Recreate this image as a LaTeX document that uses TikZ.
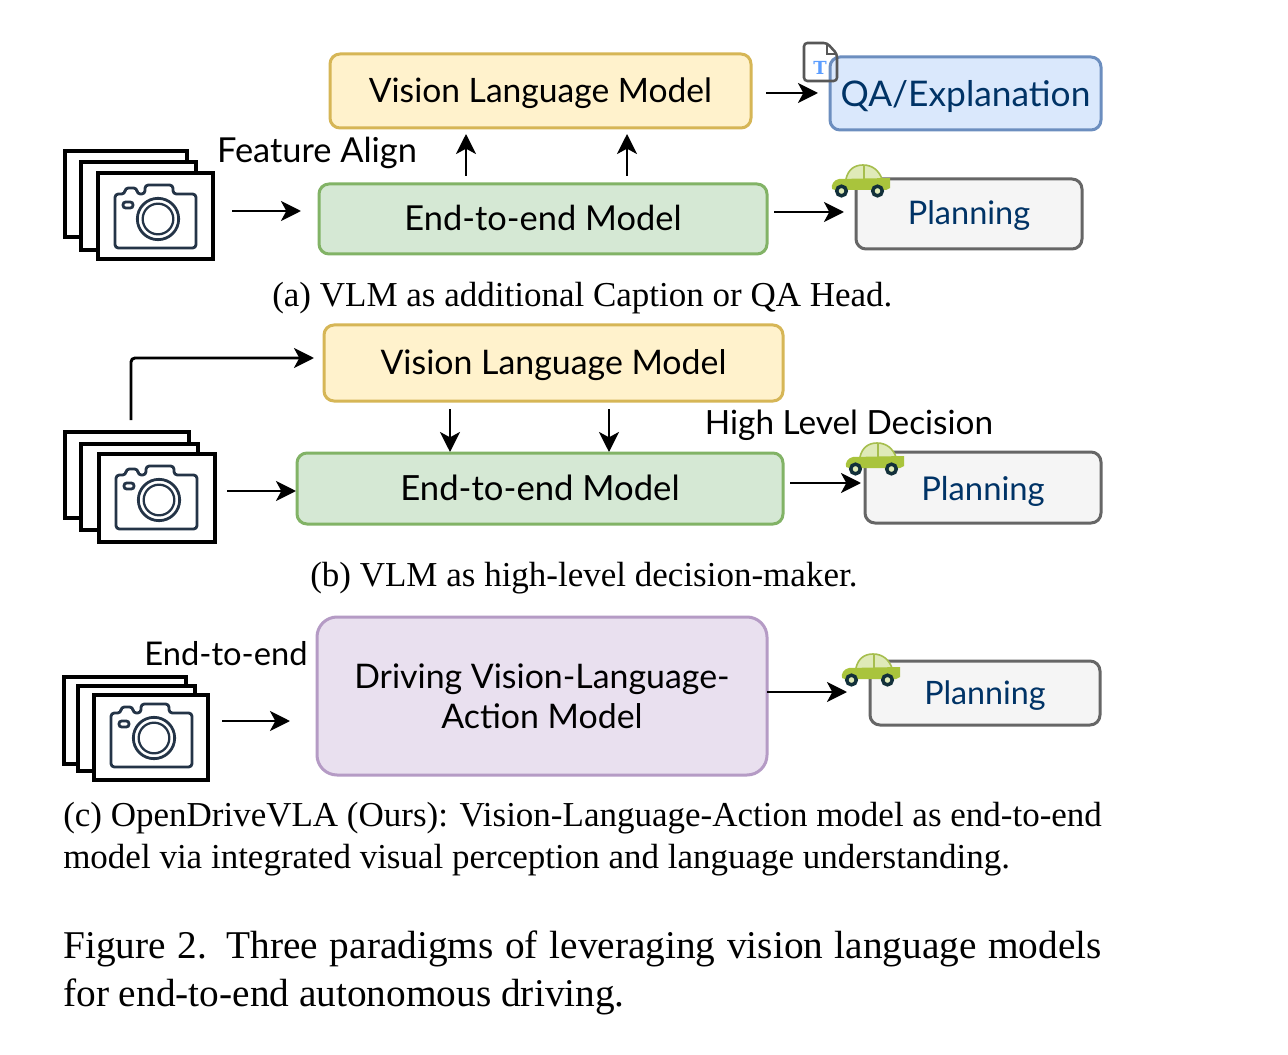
\documentclass[tikz,border=0pt]{standalone}
\usepackage{fontspec}
\setmainfont{Liberation Serif}
\newfontfamily\handfont{Lato}
\newfontfamily\slabfont{DejaVu Serif}
\usetikzlibrary{arrows.meta,fit}
\definecolor{yfill}{HTML}{FFF2CC}\definecolor{ydraw}{HTML}{D6B656}
\definecolor{gfill}{HTML}{D5E8D4}\definecolor{gdraw}{HTML}{82B366}
\definecolor{bfill}{HTML}{DAE8FC}\definecolor{bdraw}{HTML}{6C8EBF}
\definecolor{pfill}{HTML}{E9E0EF}\definecolor{pdraw}{HTML}{B59BC5}
\definecolor{wfill}{HTML}{F5F5F5}\definecolor{wdraw}{HTML}{666666}
\definecolor{navy}{HTML}{003366}\definecolor{camink}{HTML}{243447}
\definecolor{carbody}{HTML}{A9C43C}\definecolor{carroof}{HTML}{DFEAB8}\definecolor{carline}{HTML}{A6BE4E}
\definecolor{wheel}{HTML}{12303A}\definecolor{tblue}{HTML}{5B9DFF}
\tikzset{
  x=0.75pt,y=-0.75pt,
  hsize/.style={font=\handfont\fontsize{#1}{30}\selectfont},
  span/.style 2 args={minimum width=#1*0.75pt,minimum height=#2*0.75pt},
  lift/.style={text height=#1*1.5pt,text depth=0pt},
  flow/.style={draw,line width=2.25pt,rounded corners=7.5pt,inner sep=0pt,outer sep=0pt,align=center},
  yellowbox/.style={flow,draw=ydraw,fill=yfill},
  greenbox/.style={flow,draw=gdraw,fill=gfill},
  bluebox/.style={flow,draw=bdraw,fill=bfill,text=navy},
  purplebox/.style={flow,draw=pdraw,fill=pfill,rounded corners=15pt},
  greybox/.style={flow,draw=wdraw,fill=wfill,text=navy},
  frame/.style={draw=black,line width=2.35pt,fill=white,inner sep=0pt,outer sep=0pt},
  arr/.style={-{Stealth[length=15pt,width=15pt,inset=4pt]},line width=2.2pt,black},
  gap/.style 2 args={shorten <=#1*0.75pt,shorten >=#2*0.75pt},
  hand/.style={inner sep=0pt,anchor=base},
  capline/.style={font=\fontsize{26.25}{31.5}\selectfont,inner sep=0pt,anchor=base west},
  capblock/.style={inner sep=0pt,anchor=north west,text width=779pt,align=justify},
  caricon/.pic={
    \fill[carroof] (15,14) .. controls (17,5) and (23,0) .. (32,0) .. controls (42,0) and (48,6) .. (51,14) -- cycle;
    \draw[carline,line width=1.2pt] (15,14) .. controls (17,5) and (23,0) .. (32,0) .. controls (42,0) and (48,6) .. (51,14) (33,0) -- (33,14);
    \fill[carbody] (8,14) -- (59,13) -- (59,23) -- (55,25) -- (4,25) -- (1,24) .. controls (0,19) and (3,15) .. (8,14) -- cycle;
    \foreach \cx in {10.5,46.5}{\draw[wheel,line width=2.6pt,fill=carroof] (\cx,26) circle (3.6pt);}
  },
  lensicon/.pic={
    \draw[camink,line width=2.1pt,line join=round,rounded corners=2.5pt]
      (0,9) -- (10,9) -- (10,3) -- (22,3) -- (22,9) -- (30,9) -- (30,0) -- (58,0) -- (58,9) -- (81,9) -- (81,63) -- (0,63) -- cycle;
    \draw[camink,line width=2.1pt,rounded corners=2pt] (8,17) rectangle (18,23);
    \draw[camink,line width=2.1pt] (43,34) circle (15.5pt);
    \draw[camink,line width=1.7pt] (43,34) circle (11.5pt);
  },
}
\begin{document}
\begin{tikzpicture}
\useasboundingbox[fill=white] (0,0) rectangle (1288,1055);

% (a)
\node[yellowbox,span={421}{74},hsize=25.2,lift=12] (vlmA) at (540.5,91) {Vision Language Model};
\node[bluebox,span={271}{73},hsize=26.5,lift=13.5] (qaA) at (965.5,93.5) {QA/Explanation};
\node[greenbox,span={448}{70},hsize=25.8,lift=11.7] (e2eA) at (543,219) {End-to-end Model};
\node[greybox,span={226}{70},hsize=24.4,lift=11] (planA) at (969,214) {Planning};
\node[frame,fit={(65,151)(187,237)}] (camAa) {};
\node[frame,fit={(81,162)(196,250)}] (camAb) {};
\node[frame,fit={(98,173)(213,259)}] (camAc) {};
\pic at (115,185) {lensicon};
\pic at (831,165) {caricon};
\node[hand,hsize=25.8] (alignA) at (317,163) {Feature Align};
% document icon
\draw[draw=wdraw!85!black,line width=1.9pt,rounded corners=2.5pt] (804,43) -- (827,43) -- (837,54) -- (837,81) -- (804,81) -- cycle;
\draw[draw=wdraw!85!black,line width=1.5pt] (827,43) -- (827,54) -- (837,54);
\node[font=\slabfont\fontsize{13.5}{13.5}\bfseries\selectfont,text=tblue,inner sep=0pt] (docT) at (820,67.5) {T};

\draw[arr,gap={15}{12}] (vlmA.east |- 0,93) -- (qaA.west |- 0,93);
\draw[arr,gap={8}{6}] (e2eA.north -| 466,0) -- (vlmA.south -| 466,0);
\draw[arr,gap={8}{6}] (e2eA.north -| 627,0) -- (vlmA.south -| 627,0);
\draw[arr,gap={19}{18}] (camAc.east |- 0,211) -- (e2eA.west |- 0,211);
\draw[arr,gap={7}{12}] (e2eA.east |- 0,212) -- (planA.west |- 0,212);
\node[capline] (capA) at (272,306.5) {(a) VLM as additional Caption or QA Head.};

% (b)
\node[yellowbox,span={459}{76},hsize=25.4,lift=11] (vlmB) at (553.5,363) {Vision Language Model};
\node[greenbox,span={486}{71},hsize=26,lift=11.8] (e2eB) at (540,488.5) {End-to-end Model};
\node[greybox,span={236}{71},hsize=24.6,lift=13] (planB) at (983,487.5) {Planning};
\node[frame,fit={(65,432)(189,518)}] (camBa) {};
\node[frame,fit={(81,444)(198,530)}] (camBb) {};
\node[frame,fit={(99,454)(215,542)}] (camBc) {};
\pic at (116,466) {lensicon};
\pic at (845,443) {caricon};
\node[hand,hsize=25] (decB) at (849,434) {High Level Decision};
\draw[arr,gap={12}{10},rounded corners=3pt] (camBa.north -| 131,0) |- (vlmB.west |- 0,358);
\draw[arr,gap={12}{1}] (camBc.east |- 0,491) -- (e2eB.west |- 0,491);
\draw[arr,gap={8}{1}] (vlmB.south -| 450,0) -- (e2eB.north -| 450,0);
\draw[arr,gap={8}{1}] (vlmB.south -| 609,0) -- (e2eB.north -| 609,0);
\draw[arr,gap={7}{4}] (e2eB.east |- 0,483) -- (planB.west |- 0,483);
\node[capline] (capB) at (310,586) {(b) VLM as high-level decision-maker.};

% (c)
\node[purplebox,span={450}{158},hsize=25.4] (dvla) at (542,696) {Driving Vision-Language-\\Action Model};
\node[greybox,span={230}{64},hsize=24.2,lift=11.7] (planC) at (985,693) {Planning};
\node[frame,fit={(64,677)(186,764)}] (camCa) {};
\node[frame,fit={(78,686)(195,771)}] (camCb) {};
\node[frame,fit={(94,695)(208,780)}] (camCc) {};
\pic at (111,704) {lensicon};
\pic at (841,654) {caricon};
\node[hand,hsize=24.5] (e2eLabel) at (226,665) {End-to-end};
\draw[arr,gap={14}{27}] (camCc.east |- 0,721) -- (dvla.west |- 0,721);
\draw[arr,gap={0}{23}] (dvla.east |- 0,692) -- (planC.west |- 0,692);
\node[capblock,font=\fontsize{26.25}{31.5}\selectfont] (capC) at (63,802) {(c) OpenDriveVLA (Ours): Vision-Language-Action model as end-to-end\linebreak model via integrated visual perception and language understanding.};
\node[capblock,font=\fontsize{29.5}{35.6}\selectfont] (figcap) at (63,931) {Figure 2.\enspace Three paradigms of leveraging vision language models\linebreak for end-to-end autonomous driving.};
\end{tikzpicture}
\end{document}
